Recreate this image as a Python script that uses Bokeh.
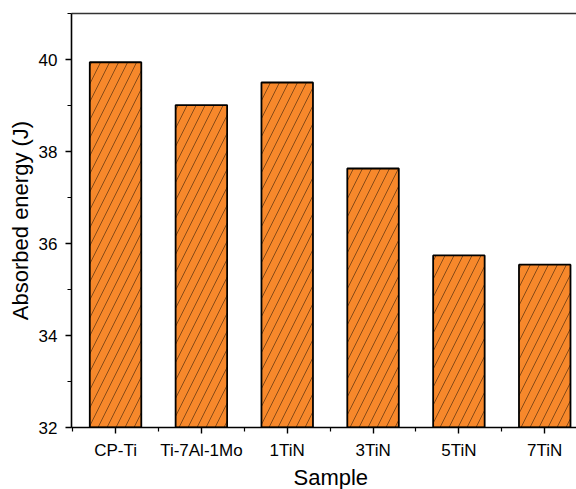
from bokeh.plotting import figure
from bokeh.models import FixedTicker, SingleIntervalTicker, Range1d, LinearAxis, Title
from bokeh.embed import file_html
from bokeh.resources import INLINE

samples = ["CP-Ti", "Ti-7Al-1Mo", "1TiN", "3TiN", "5TiN", "7TiN"]
energy = [39.94, 39.01, 39.50, 37.63, 35.74, 35.54]
xpos = list(range(len(samples)))
y_start, y_end = 32, 41

FONT = "Liberation Sans"

p = figure(width=576, height=489, output_backend="svg", toolbar_location=None,
           x_range=Range1d(-0.513, 5.37), y_range=Range1d(y_start, y_end),
           min_border_left=71, min_border_right=0, min_border_top=13, min_border_bottom=61)
p.outline_line_color = None
p.grid.visible = False
p.background_fill_color = "white"
p.border_fill_color = "white"

p.vbar(x=xpos, top=energy, bottom=y_start, width=0.6, fill_color="#F7882B",
       line_color="black", line_width=1.8,
       hatch_pattern="right_diagonal_line", hatch_color="#3a2008",
       hatch_scale=18, hatch_weight=0.6)

xa = p.xaxis[0]
xa.ticker = FixedTicker(ticks=xpos, minor_ticks=[i + 0.5 for i in range(-1, 6)])
xa.major_label_overrides = {i: s for i, s in enumerate(samples)}

ya = p.yaxis[0]
ya.ticker = SingleIntervalTicker(interval=2, num_minor_ticks=2)
ya.axis_label = "Absorbed energy (J)"

for ax in (xa, ya):
    ax.axis_line_width = 1.6
    ax.axis_line_color = "black"
    ax.major_tick_line_width = 1.4
    ax.minor_tick_line_width = 1.2
    ax.major_tick_in = 0
    ax.major_tick_out = 6
    ax.minor_tick_in = 0
    ax.minor_tick_out = 4
    ax.major_label_text_font = FONT
    ax.major_label_text_font_size = "17px"
    ax.major_label_text_color = "black"
    ax.axis_label_text_font = FONT
    ax.axis_label_text_font_size = "22px"
    ax.axis_label_text_font_style = "normal"
    ax.axis_label_text_color = "black"
ya.major_label_standoff = 8
ya.axis_label_standoff = 3
xa.major_label_standoff = 7

p.add_layout(Title(text="Sample", align="left", offset=222, text_font=FONT,
                   text_font_size="22px", text_font_style="normal",
                   text_color="black", standoff=0), "below")

top = LinearAxis(ticker=FixedTicker(ticks=[]), major_label_text_font_size="0px",
                 axis_line_width=1.6, axis_line_color="#333333",
                 major_tick_line_color=None, minor_tick_line_color=None)
p.add_layout(top, "above")

open("out.html", "w").write(file_html(p, INLINE))
